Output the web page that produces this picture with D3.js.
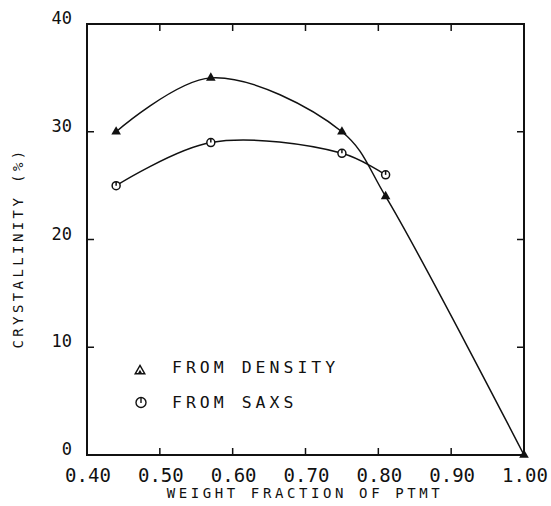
<!DOCTYPE html>
<html>
<head>
    <meta charset="utf-8">
    <title>Crystallinity vs PTMT</title>
    <script src="https://d3js.org/d3.v7.min.js"></script>
    <style type="text/css">
        body { margin: 0; background: #fff; }
        text { font-family: "DejaVu Sans Mono", monospace; fill: #111; }
        .frame { fill: none; stroke: #111; stroke-width: 2; }
        .curve { fill: none; stroke: #111; stroke-width: 1.5; }
    </style>
</head>
<body>
    <script type="text/javascript">
        // data
        let densityX = [0.44, 0.57, 0.75, 0.81, 1.00],
            densityY = [30, 35, 30, 24, 0];
        let saxsX = [0.44, 0.57, 0.75, 0.81],
            saxsY = [25, 29, 28, 26];
        let xTicks = [0.40, 0.50, 0.60, 0.70, 0.80, 0.90, 1.00],
            yTicks = [0, 10, 20, 30, 40];
        let legendLabels = ["FROM DENSITY", "FROM SAXS"];

        let width = 551, height = 506;
        let mLeft = 87, mRight = 524, mTop = 24, mBottom = 455;

        let svg = d3.select("body").append("svg")
            .attr("width", width)
            .attr("height", height);

        let x = d3.scaleLinear().domain([0.40, 1.00]).range([mLeft, mRight]);
        let y = d3.scaleLinear().domain([0, 40]).range([mBottom, mTop]);

        // frame
        svg.append("rect")
            .attr("class", "frame")
            .attr("x", mLeft).attr("y", mTop)
            .attr("width", mRight - mLeft).attr("height", mBottom - mTop);

        // inward ticks on all four sides
        let tickLen = 7;
        svg.append("g").selectAll("line").data(xTicks.slice(1, -1)).join("line")
            .attr("x1", d => x(d)).attr("x2", d => x(d))
            .attr("y1", mBottom).attr("y2", mBottom - tickLen)
            .attr("stroke", "#111").attr("stroke-width", 1.5);
        svg.append("g").selectAll("line").data(xTicks.slice(1, -1)).join("line")
            .attr("x1", d => x(d)).attr("x2", d => x(d))
            .attr("y1", mTop).attr("y2", mTop + tickLen)
            .attr("stroke", "#111").attr("stroke-width", 1.5);
        svg.append("g").selectAll("line").data(yTicks.slice(1, -1)).join("line")
            .attr("x1", mLeft).attr("x2", mLeft + tickLen)
            .attr("y1", d => y(d)).attr("y2", d => y(d))
            .attr("stroke", "#111").attr("stroke-width", 1.5);
        svg.append("g").selectAll("line").data(yTicks.slice(1, -1)).join("line")
            .attr("x1", mRight).attr("x2", mRight - tickLen)
            .attr("y1", d => y(d)).attr("y2", d => y(d))
            .attr("stroke", "#111").attr("stroke-width", 1.5);

        // tick labels
        svg.append("g").selectAll("text").data(xTicks).join("text")
            .attr("x", d => x(d) + 1).attr("y", mBottom + 27)
            .attr("text-anchor", "middle")
            .style("font-size", "19px")
            .text(d => d3.format(".2f")(d));
        svg.append("g").selectAll("text").data(yTicks).join("text")
            .attr("x", mLeft - 15).attr("y", d => y(d))
            .attr("text-anchor", "end")
            .style("font-size", "17px")
            .text(d => d);

        // axis titles
        svg.append("text")
            .attr("x", 305).attr("y", 498)
            .attr("text-anchor", "middle")
            .style("font-size", "14px").style("letter-spacing", "3.6px")
            .text("WEIGHT FRACTION OF PTMT");
        svg.append("text")
            .attr("transform", "translate(23,248) rotate(-90)")
            .attr("text-anchor", "middle")
            .style("font-size", "14px").style("letter-spacing", "3.4px")
            .text("CRYSTALLINITY (%)");

        // curves
        let line = d3.line().x(d => x(d[0])).y(d => y(d[1])).curve(d3.curveCatmullRom.alpha(0.5));
        let density = d3.zip(densityX, densityY),
            saxs = d3.zip(saxsX, saxsY);
        svg.append("path").attr("class", "curve").attr("d", line(density));
        svg.append("path").attr("class", "curve").attr("d", line(saxs));

        let tri = d3.symbol().type(d3.symbolTriangle).size(40);
        svg.append("g").selectAll("path").data(density).join("path")
            .attr("d", tri)
            .attr("transform", d => "translate(" + x(d[0]) + "," + y(d[1]) + ")")
            .attr("fill", "#111");

        function circleMark(g, cx, cy) {
            g.append("circle").attr("cx", cx).attr("cy", cy).attr("r", 4)
                .attr("fill", "#fff").attr("stroke", "#111").attr("stroke-width", 1.5);
            g.append("line").attr("x1", cx).attr("x2", cx).attr("y1", cy - 4).attr("y2", cy)
                .attr("stroke", "#111").attr("stroke-width", 1.5);
        }
        let sg = svg.append("g");
        saxs.forEach(d => circleMark(sg, x(d[0]), y(d[1])));

        // legend
        let lg = svg.append("g");
        lg.append("path")
            .attr("d", d3.symbol().type(d3.symbolTriangle).size(40))
            .attr("transform", "translate(140,371)")
            .attr("fill", "none").attr("stroke", "#111").attr("stroke-width", 1.4);
        lg.append("path")
            .attr("d", d3.symbol().type(d3.symbolTriangle).size(6))
            .attr("transform", "translate(140,372)")
            .attr("fill", "#111");
        lg.append("circle").attr("cx", 141).attr("cy", 402.5).attr("r", 5)
            .attr("fill", "none").attr("stroke", "#111").attr("stroke-width", 1.4);
        lg.append("line").attr("x1", 141).attr("x2", 141).attr("y1", 397.5).attr("y2", 403)
            .attr("stroke", "#111").attr("stroke-width", 1.4);
        lg.selectAll("text").data(legendLabels).join("text")
            .attr("x", 172).attr("y", (d, i) => 373 + i * 35)
            .style("font-size", "16.5px").style("letter-spacing", "4px")
            .text(d => d);
    </script>
</body>
</html>
